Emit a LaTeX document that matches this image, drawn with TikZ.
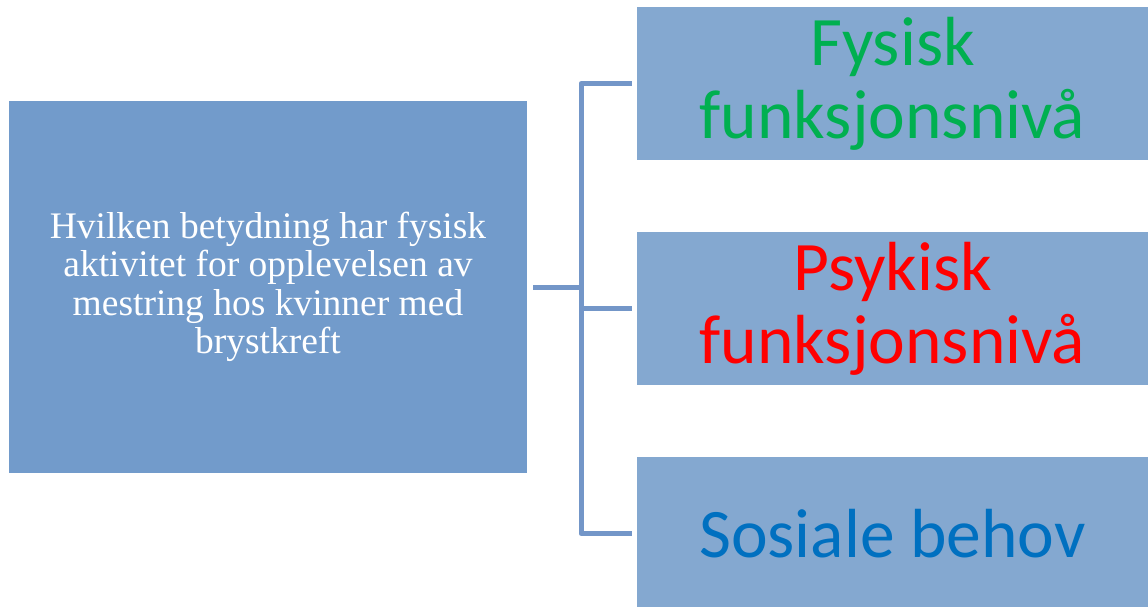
\documentclass[tikz,border=0pt]{standalone}
\usepackage{fontspec}
\setmainfont{Liberation Serif}
\newfontfamily\calib{Carlito}
\definecolor{leftblue}{HTML}{729BCB}
\definecolor{rightblue}{HTML}{84A8D0}
\definecolor{linkblue}{HTML}{7396C8}
\definecolor{fgreen}{HTML}{00B050}
\definecolor{pred}{HTML}{FF0000}
\definecolor{sblue}{HTML}{0070C0}
\tikzset{
  qbox/.style={fill=leftblue, inner sep=0pt, minimum width=518pt, minimum height=372pt,
    text=white, align=center, font=\fontsize{37.5}{38.5}\selectfont},
  abox/.style={fill=rightblue, inner sep=0pt, minimum width=511pt, minimum height=153pt,
    align=center, font=\calib\fontsize{69.5}{73}\selectfont},
  link/.style={draw=linkblue, line width=5pt, line join=round}
}
\begin{document}
\begin{tikzpicture}[x=1pt, y=-1pt]
\useasboundingbox (0,0) rectangle (1148,607);
\node[qbox] (q) at (268,287) {Hvilken betydning har fysisk\\aktivitet for opplevelsen av\\mestring hos kvinner med\\brystkreft};
\node[abox, text=fgreen] (f) at (892.5,83.5) {Fysisk\\funksjonsnivå};
\node[abox, text=pred] (p) at (892.5,308.5) {Psykisk\\funksjonsnivå};
\node[abox, text=sblue] (s) at (892.5,533.5) {Sosiale behov};
\coordinate (j) at (581,287);
\draw[link, shorten <=6pt] (q.east) -- (j);
\draw[link, shorten <=5pt, shorten >=5pt] (f.west) -| (j) |- (s.west);
\draw[link, shorten >=5pt] (j) |- (p.west);
\end{tikzpicture}
\end{document}
